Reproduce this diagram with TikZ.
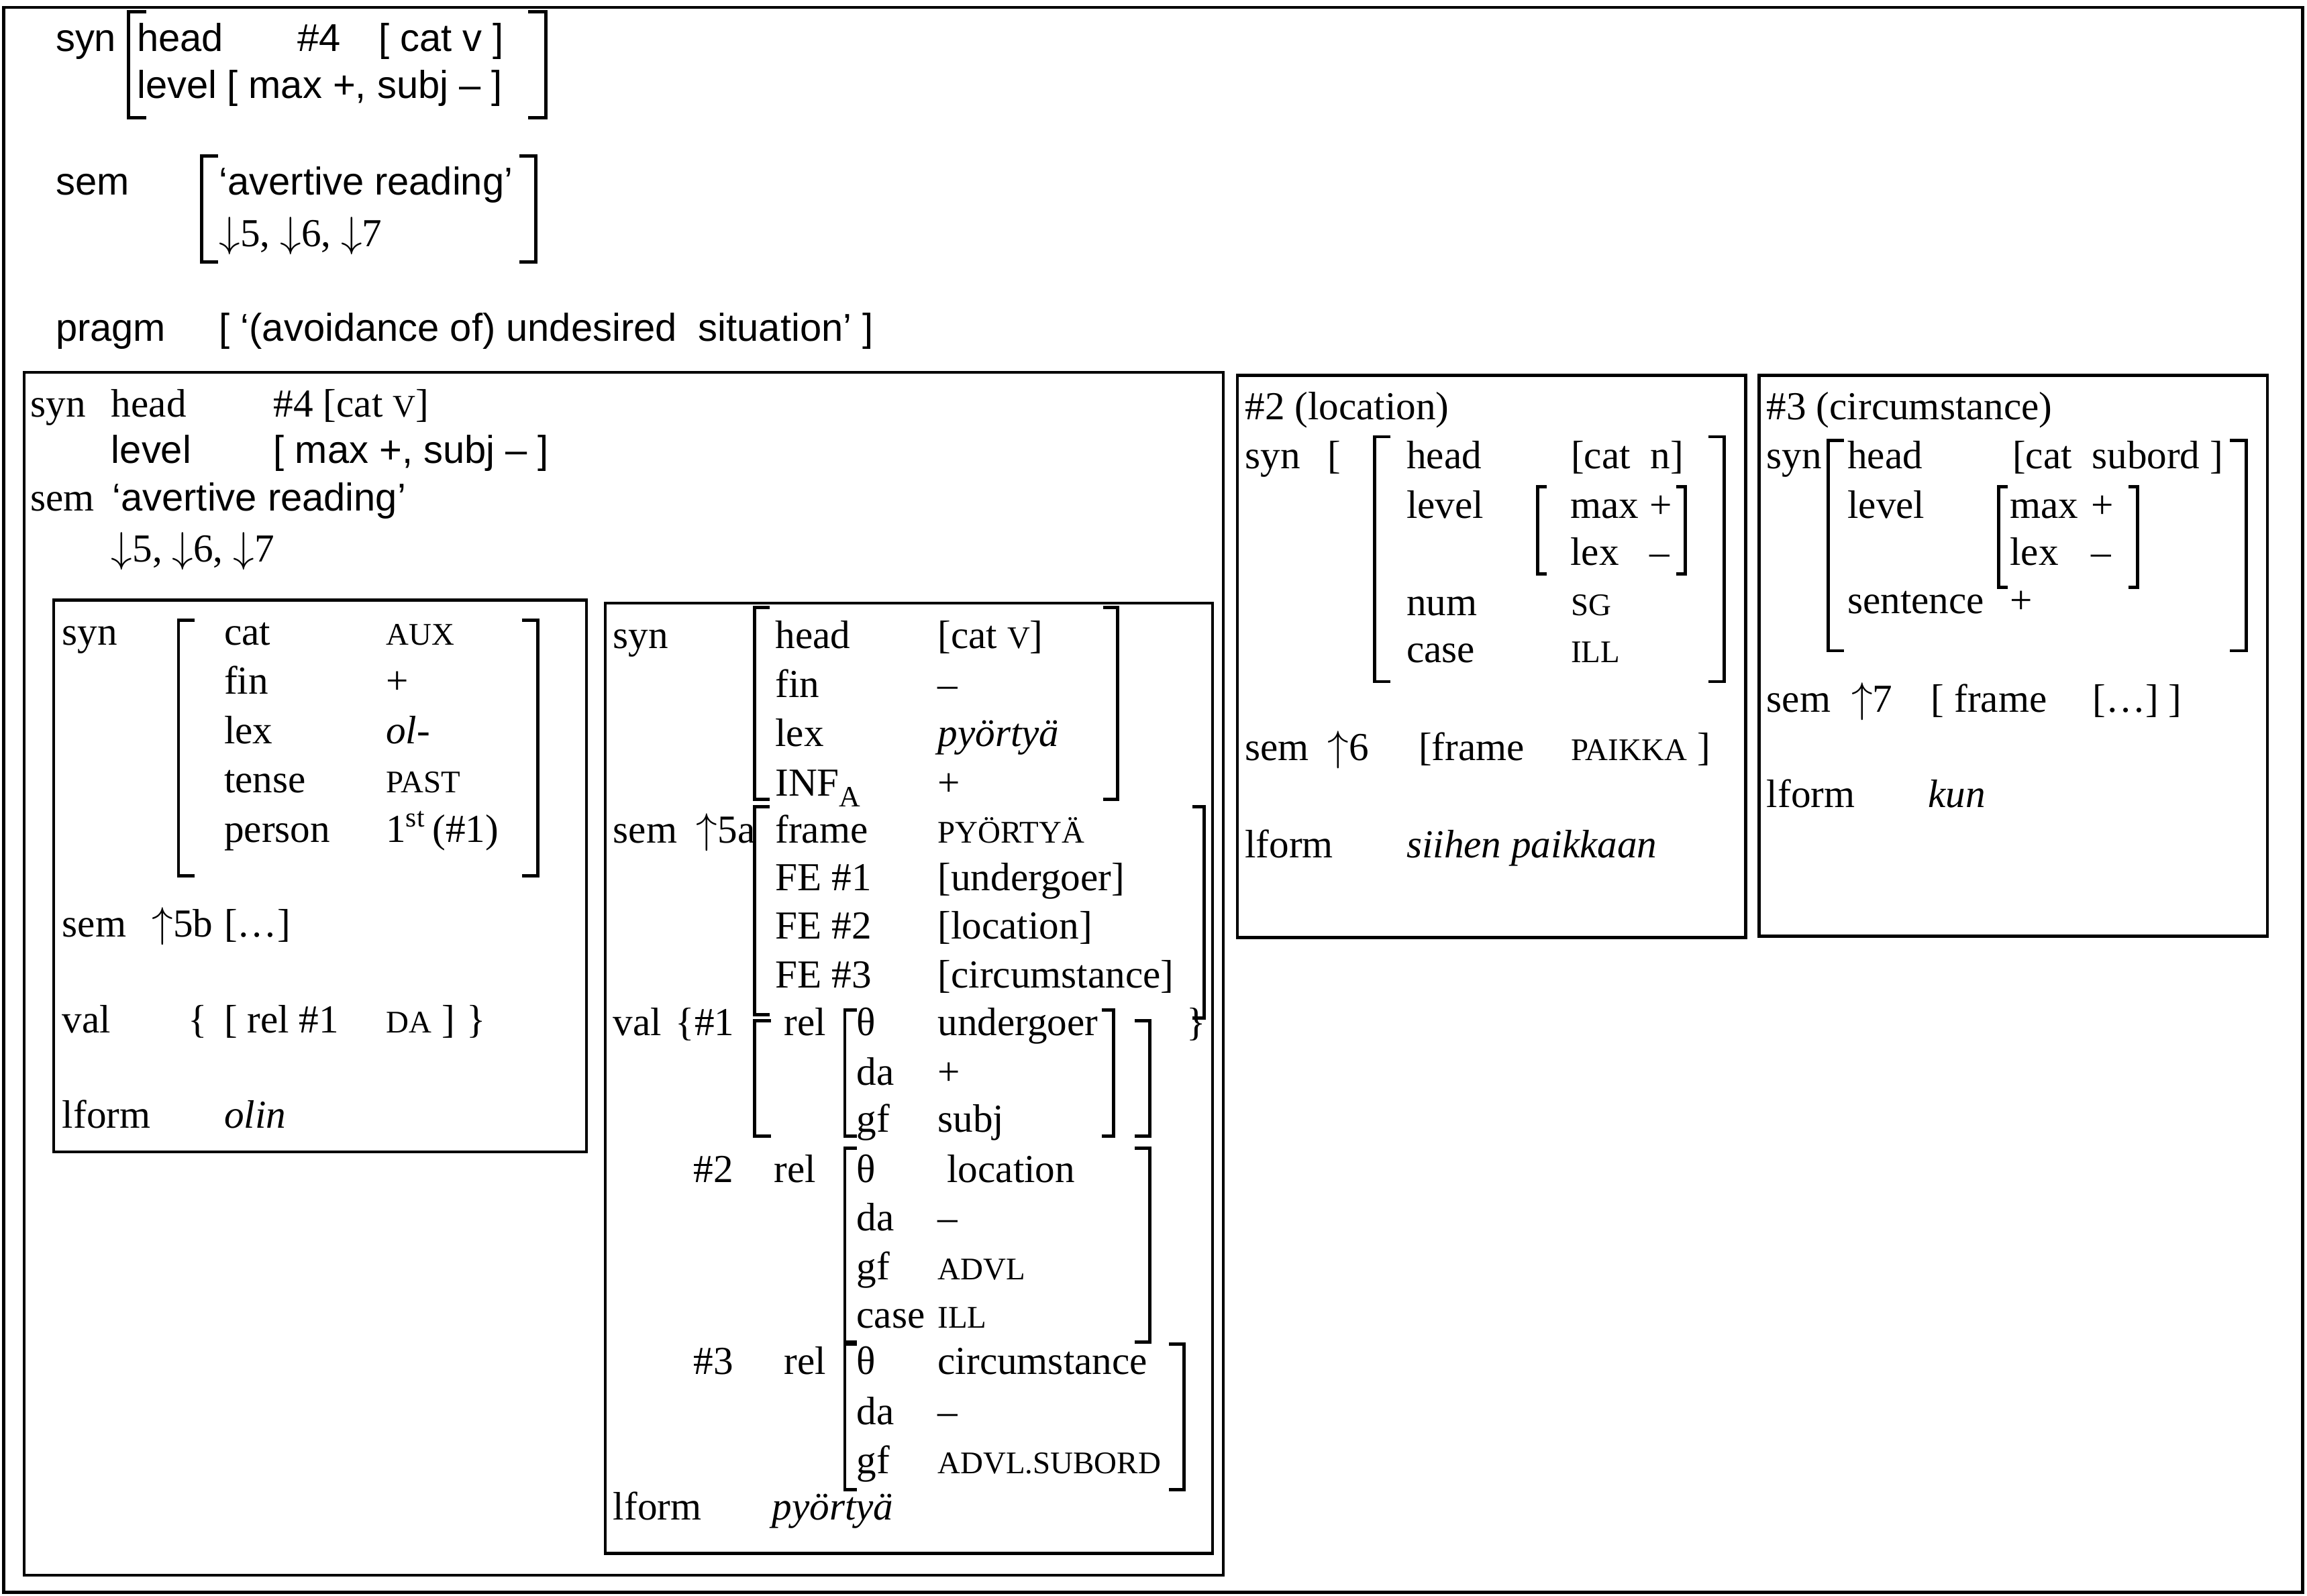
\documentclass[tikz,border=0pt]{standalone}
\usepackage{fontspec}
\setmainfont{Liberation Serif}
\newfontfamily\arialf{Liberation Sans}
\newcommand\serT{\fontsize{13.5}{16}\selectfont\rmfamily}
\newcommand\sanT{\fontsize{13.2}{16}\selectfont\arialf}
\newcommand\SmC[1]{{\fontsize{10.7}{12}\selectfont #1}}
\newcommand\Dn{$\downarrow$}
\newcommand\Up{$\uparrow$}
\newcommand\Tx[4]{\node[tx] (#1) at (#2,#3) {#4};}
\newcommand\Sx[4]{\node[sx] (#1) at (#2,#3) {#4};}
\newcommand\LBrk[4]{\draw[brk] ({#1+#4},#2) -- (#1,#2) -- (#1,#3) -- ({#1+#4},#3);}
\newcommand\RBrk[4]{\draw[brk] ({#1-#4},#2) -- (#1,#2) -- (#1,#3) -- ({#1-#4},#3);}
\begin{document}
\begin{tikzpicture}[x=0.5pt,y=-0.5pt,
  tx/.style={anchor=base west,inner sep=0pt,font=\serT},
  sx/.style={anchor=base west,inner sep=0pt,font=\sanT},
  frm/.style={draw,line width=1pt},
  brk/.style={line width=1.1pt,line join=miter}]
\useasboundingbox (0,0) rectangle (1568,1084.6);
% frames
\draw[frm] (2.5,5) rectangle (1565,1082.5);
\draw[frm] (16.5,253) rectangle (831.5,1071);
\draw[frm] (36.5,408) rectangle (398.6,783);
\draw[frm] (411.5,410) rectangle (824,1056);
\draw[frm] (841.1,255.1) rectangle (1186.4,637.3);
\draw[frm] (1195.6,255.1) rectangle (1541.2,636.5);

% ---------- top section ----------
\Sx{tsyn}{37.5}{35}{syn}
\Sx{thead}{92.8}{35}{head}
\Sx{tfour}{202}{35}{\#4}
\Sx{tcat}{257}{35}{[ cat v ]}
\Sx{tlevel}{92.8}{66.8}{level}
\Sx{tmax}{154}{66.8}{[ max +, subj – ]}
\LBrk{87.5}{8}{80}{12}
\RBrk{371}{8}{80}{12}
\Sx{tsem}{37.5}{132.7}{sem}
\Sx{tav}{148.6}{132.7}{‘avertive reading’}
\Tx{tarr}{148.6}{167.8}{\Dn5, \Dn6, \Dn7}
\LBrk{137}{106}{178}{11}
\RBrk{364}{106}{178}{11}
\Sx{tpragm}{37.5}{232}{pragm}
\Sx{tprag}{148.6}{232}{[ ‘(avoidance of) undesired\ \ situation’ ]}

% ---------- left big box header ----------
\Tx{hsyn}{20.4}{283.5}{syn}
\Tx{hhead}{75.3}{283.5}{head}
\Tx{hcat}{185.6}{283.5}{\#4 [cat \SmC{V}]}
\Sx{hlevel}{75.3}{314.7}{level}
\Sx{hmax}{185.6}{314.7}{[ max +, subj – ]}
\Tx{hsem}{20.4}{347.4}{sem}
\Sx{hav}{76}{347.4}{‘avertive reading’}
\Tx{harr}{75.3}{382}{\Dn5, \Dn6, \Dn7}

% ---------- olin box ----------
\Tx{asyn}{42}{438.5}{syn}
\LBrk{121.3}{421.8}{595.5}{11}
\RBrk{365.7}{421.8}{595.5}{11}
\Tx{acat}{152}{438.5}{cat}     \Tx{acatv}{262}{438.5}{\SmC{AUX}}
\Tx{afin}{152}{472}{fin}       \Tx{afinv}{262}{472}{+}
\Tx{alex}{152}{505.5}{lex}     \Tx{alexv}{262}{505.5}{\textit{ol-}}
\Tx{aten}{152}{539}{tense}     \Tx{atenv}{262}{539}{\SmC{PAST}}
\Tx{aper}{152}{572.5}{person}  \Tx{aperv}{262}{572.5}{1\textsuperscript{st}\,(\#1)}
\Tx{asem}{42}{636.7}{sem}
\Tx{asemu}{103}{636.7}{\Up5b}
\Tx{asemv}{152}{636.7}{[…]}
\Tx{aval}{42}{702}{val}
\Tx{avalb}{127.5}{702}{\{}
\Tx{avalr}{152}{702}{[ rel \#1}
\Tx{avalda}{262}{702}{\SmC{DA}}
\Tx{avalc}{299.7}{702}{]}
\Tx{avale}{316.8}{702}{\}}
\Tx{alf}{42}{766.7}{lform}
\Tx{alfv}{152}{766.7}{\textit{olin}}

% ---------- pyörtyä box ----------
\Tx{bsyn}{416.4}{440.6}{syn}
\LBrk{512.9}{413}{543.4}{10}
\RBrk{759.6}{413}{543.4}{10}
\Tx{bhead}{526.6}{440.6}{head}  \Tx{bheadv}{637}{440.6}{[cat \SmC{V}]}
\Tx{bfin}{526.6}{474.1}{fin}    \Tx{bfinv}{637}{474.1}{–}
\Tx{blex}{526.6}{507.6}{lex}    \Tx{blexv}{637}{507.6}{\textit{pyörtyä}}
\Tx{binf}{526.6}{541}{INF\raisebox{-0.28em}{\fontsize{10}{10}\selectfont A}}
\Tx{binfv}{637}{541}{+}
\Tx{bsem}{416.4}{572.9}{sem}
\Tx{bsemu}{473}{572.9}{\Up5a}
\LBrk{512.9}{548.5}{690}{10}
\RBrk{818.3}{548.5}{692}{8}
\Tx{bfr}{526.6}{572.9}{frame}   \Tx{bfrv}{637}{572.9}{\SmC{PYÖRTYÄ}}
\Tx{bfe1}{526.6}{605.5}{FE \#1} \Tx{bfe1v}{637}{605.5}{[undergoer]}
\Tx{bfe2}{526.6}{638.5}{FE \#2} \Tx{bfe2v}{637}{638.5}{[location]}
\Tx{bfe3}{526.6}{671.7}{FE \#3} \Tx{bfe3v}{637}{671.7}{[circumstance]}
\Tx{bval}{416.4}{704}{val}
\Tx{bvalb}{458.8}{704}{\{\#1}
\LBrk{512.9}{694}{772.5}{11}
\Tx{brel1}{532.6}{704}{rel}
\LBrk{574.2}{686.6}{772.5}{8}
\RBrk{756.8}{686.6}{772.5}{8}
\RBrk{781.4}{694}{772.5}{10}
\Tx{bt1}{581.8}{704}{θ}    \Tx{bt1v}{637}{704}{undergoer}
\Tx{bda1}{581.8}{737.9}{da} \Tx{bda1v}{637}{737.9}{+}
\Tx{bgf1}{581.8}{769.6}{gf} \Tx{bgf1v}{637}{769.6}{subj}
\Tx{bvale}{806}{704}{\}}
\Tx{btwo}{471.1}{803.8}{\#2}
\Tx{brel2}{525.8}{803.8}{rel}
\LBrk{574.2}{780.6}{912.5}{8}
\RBrk{781.4}{780.6}{912.5}{10}
\Tx{bt2}{581.8}{803.8}{θ}     \Tx{bt2v}{643.3}{803.8}{location}
\Tx{bda2}{581.8}{836.8}{da}   \Tx{bda2v}{637}{836.8}{–}
\Tx{bgf2}{581.8}{869.8}{gf}   \Tx{bgf2v}{637}{869.8}{\SmC{ADVL}}
\Tx{bca2}{581.8}{902.8}{case} \Tx{bca2v}{637}{902.8}{\SmC{ILL}}
\Tx{bthree}{471.1}{934.5}{\#3}
\Tx{brel3}{532.6}{934.5}{rel}
\LBrk{574.2}{913.8}{1012.7}{8}
\RBrk{804.7}{913.8}{1012.7}{10}
\Tx{bt3}{581.8}{934.5}{θ}     \Tx{bt3v}{637}{934.5}{circumstance}
\Tx{bda3}{581.8}{968.7}{da}   \Tx{bda3v}{637}{968.7}{–}
\Tx{bgf3}{581.8}{1001.7}{gf}  \Tx{bgf3v}{637}{1001.7}{\SmC{ADVL.SUBORD}}
\Tx{blf}{416.4}{1033.4}{lform}
\Tx{blfv}{524.4}{1033.4}{\textit{pyörtyä}}

% ---------- #2 box ----------
\Tx{ctitle}{845.8}{285.5}{\#2 (location)}
\Tx{csyn}{845.8}{318.4}{syn}
\Tx{csynb}{902.1}{318.4}{[}
\LBrk{934.2}{296.9}{463.4}{11}
\RBrk{1172}{296.9}{463.4}{11}
\Tx{chead}{955.6}{318.4}{head}  \Tx{cheadv}{1067.3}{318.4}{[cat\ \ n]}
\Tx{clev}{955.6}{352.1}{level}
\LBrk{1045.2}{331}{390}{6}
\RBrk{1145.3}{331}{390}{6}
\Tx{cmax}{1067}{352.1}{max}   \Tx{cmaxv}{1120.8}{352.1}{+}
\Tx{clex}{1067}{384.2}{lex}   \Tx{clexv}{1120.8}{384.2}{–}
\Tx{cnum}{955.6}{418.4}{num}  \Tx{cnumv}{1067.3}{418.4}{\SmC{SG}}
\Tx{ccase}{955.6}{450.5}{case} \Tx{ccasev}{1067.3}{450.5}{\SmC{ILL}}
\Tx{csem}{845.8}{517.1}{sem}
\Tx{csemu}{902}{517.1}{\Up6}
\Tx{csemf}{963.8}{517.1}{[frame}
\Tx{csemv}{1067.3}{517.1}{\SmC{PAIKKA}}
\Tx{csemc}{1153.4}{517.1}{]}
\Tx{clf}{845.8}{582.9}{lform}
\Tx{clfv}{955.6}{582.9}{\textit{siihen paikkaan}}

% ---------- #3 box ----------
\Tx{dtitle}{1200.4}{285.5}{\#3 (circumstance)}
\Tx{dsyn}{1200.4}{318.4}{syn}
\LBrk{1242.4}{299.4}{442.4}{11}
\RBrk{1526.6}{299.4}{442.4}{11}
\Tx{dhead}{1255.3}{318.4}{head} \Tx{dheadv}{1367.4}{318.4}{[cat\ \ subord ]}
\Tx{dlev}{1255.3}{352.1}{level}
\LBrk{1358.4}{331}{399.4}{6}
\RBrk{1452.7}{331}{399.4}{6}
\Tx{dmax}{1365.7}{352.1}{max}  \Tx{dmaxv}{1421}{352.1}{+}
\Tx{dlex}{1365.7}{384.2}{lex}  \Tx{dlexv}{1421}{384.2}{–}
\Tx{dsen}{1255.3}{417.1}{sentence} \Tx{dsenv}{1365.7}{417.1}{+}
\Tx{dsem}{1200.4}{484.2}{sem}
\Tx{dsemu}{1258}{484.2}{\Up7}
\Tx{dsemf}{1312.1}{484.2}{[ frame}
\Tx{dsemv}{1421.8}{484.2}{[…] ]}
\Tx{dlf}{1200.4}{548.8}{lform}
\Tx{dlfv}{1310.2}{548.8}{\textit{kun}}
\end{tikzpicture}
\end{document}
